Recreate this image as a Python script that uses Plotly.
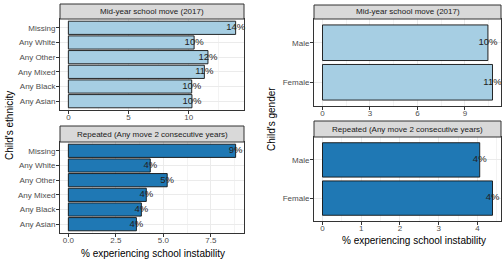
import plotly.graph_objects as go

W, H = 503, 261

# ---- data ----
ethnicity = ["Any Asian", "Any Black", "Any Mixed", "Any Other", "Any White", "Missing"]
midyear_eth = [10.27, 10.25, 11.3, 11.6, 10.45, 13.9]
repeated_eth = [3.58, 3.84, 4.1, 5.2, 4.31, 8.8]
gender = ["Female", "Male"]
midyear_gender = [10.74, 10.45]
repeated_gender = [4.39, 4.06]

strip_titles = ["Mid-year school move (2017)", "Repeated (Any move 2 consecutive years)"]
x_title = "% experiencing school instability"
y_titles = ["Child's ethnicity", "Child's gender"]

LIGHT = "#a6cee3"
DARK = "#1f78b4"
FONT = "Liberation Sans, Arial, sans-serif"

# layout in pixels: (x0, x1, ytop, ybottom), strip top
panels = [
    dict(cats=ethnicity, vals=midyear_eth, color=LIGHT, box=(60, 244, 19, 110), strip_top=4,
         dtick=5, fmt="d", strip=strip_titles[0]),
    dict(cats=ethnicity, vals=repeated_eth, color=DARK, box=(60, 244, 142, 233), strip_top=126,
         dtick=2.5, fmt=".1f", strip=strip_titles[1]),
    dict(cats=gender, vals=midyear_gender, color=LIGHT, box=(314, 501, 19, 106), strip_top=5,
         dtick=3, fmt="d", strip=strip_titles[0]),
    dict(cats=gender, vals=repeated_gender, color=DARK, box=(314, 501, 137, 221), strip_top=121,
         dtick=1, fmt="d", strip=strip_titles[1]),
]

fig = go.Figure()
shapes = []
annotations = []
layout_axes = {}

for i, p in enumerate(panels, start=1):
    xa = "x" if i == 1 else f"x{i}"
    ya = "y" if i == 1 else f"y{i}"
    x0, x1, yt, yb = p["box"]
    vmax = max(p["vals"])
    fig.add_trace(go.Bar(
        x=p["vals"], y=p["cats"], orientation="h", width=0.9,
        marker=dict(color=p["color"], line=dict(color="#111111", width=0.9)),
        xaxis=xa, yaxis=ya, showlegend=False, hoverinfo="skip"))
    fig.add_trace(go.Scatter(
        x=p["vals"], y=p["cats"], mode="text",
        text=[f"{round(v)}%" for v in p["vals"]],
        textposition="middle center",
        textfont=dict(size=9.5, color="#222222", family=FONT),
        cliponaxis=False, xaxis=xa, yaxis=ya, showlegend=False, hoverinfo="skip"))

    common = dict(showline=True, mirror=True, linecolor="#333333", linewidth=1,
                  ticks="outside", ticklen=3, tickwidth=1, tickcolor="#333333",
                  tickfont=dict(size=8, color="#4d4d4d", family=FONT),
                  showgrid=True, gridcolor="#ebebeb", gridwidth=1, zeroline=False)
    layout_axes["xaxis" if i == 1 else f"xaxis{i}"] = dict(
        domain=[x0 / W, x1 / W], anchor=ya, range=[-0.05 * vmax, 1.05 * vmax],
        dtick=p["dtick"], tick0=0, tickformat=p["fmt"], ticklabelstandoff=-4,
        minor=dict(dtick=p["dtick"] / 2, tick0=0, showgrid=True, gridcolor="#f3f3f3",
                   gridwidth=0.6, ticks=""),
        **common)
    n = len(p["cats"])
    layout_axes["yaxis" if i == 1 else f"yaxis{i}"] = dict(
        domain=[1 - yb / H, 1 - yt / H], anchor=xa, type="category",
        categoryorder="array", categoryarray=p["cats"], range=[-0.6, n - 0.4],
        ticklabelstandoff=-1,
        **common)

    # strip
    st = p["strip_top"]
    shapes.append(dict(type="rect", xref="paper", yref="paper",
                       x0=x0 / W, x1=x1 / W, y0=1 - yt / H, y1=1 - st / H,
                       fillcolor="#d9d9d9", line=dict(color="#333333", width=1)))
    annotations.append(dict(text=p["strip"], xref="paper", yref="paper",
                            x=(x0 + x1) / 2 / W, y=1 - (st + yt) / 2 / H,
                            xanchor="center", yanchor="middle", showarrow=False,
                            font=dict(size=8, color="#1a1a1a", family=FONT)))

# axis titles
annotations.append(dict(text=x_title, xref="paper", yref="paper", x=152.5 / W, y=1 - 253 / H,
                        xanchor="center", yanchor="middle", showarrow=False,
                        font=dict(size=10, color="black", family=FONT)))
annotations.append(dict(text=x_title, xref="paper", yref="paper", x=413.5 / W, y=1 - 240.5 / H,
                        xanchor="center", yanchor="middle", showarrow=False,
                        font=dict(size=10, color="black", family=FONT)))
annotations.append(dict(text=y_titles[0], xref="paper", yref="paper", x=9 / W, y=1 - 126 / H,
                        xanchor="center", yanchor="middle", showarrow=False, textangle=-90,
                        font=dict(size=10, color="black", family=FONT)))
annotations.append(dict(text=y_titles[1], xref="paper", yref="paper", x=271 / W, y=1 - 119 / H,
                        xanchor="center", yanchor="middle", showarrow=False, textangle=-90,
                        font=dict(size=10, color="black", family=FONT)))

fig.update_layout(
    width=W, height=H, margin=dict(l=0, r=0, t=0, b=0),
    paper_bgcolor="white", plot_bgcolor="white",
    font=dict(family=FONT), bargap=0.1,
    shapes=shapes, annotations=annotations, **layout_axes)

fig.write_html("out.html")
